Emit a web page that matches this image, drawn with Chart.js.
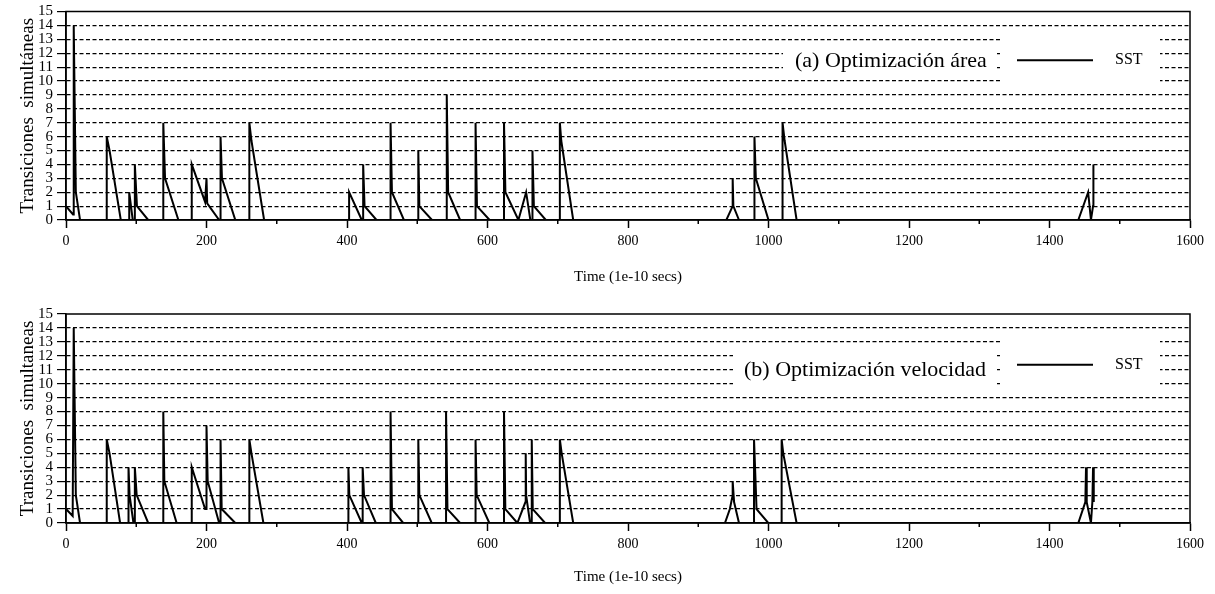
<!DOCTYPE html>
<html>
<head>
<meta charset="utf-8">
<script src="https://cdn.jsdelivr.net/npm/chart.js@4.4.1/dist/chart.umd.min.js"></script>
<style>
  body { margin: 0; background: #fff; }
  canvas { display: block; }
</style>
</head>
<body>
<canvas id="chartA" width="1215" height="290"></canvas>
<canvas id="chartB" width="1215" height="304"></canvas>
<script>
// (a) Optimización área
var timeA = [0, 10, 11, 14, 20,
  58, 58, 62, 78, 90, 90, 95, 98, 98, 101, 117,
  138.5, 138.5, 141, 160, 179, 179, 198, 200, 201, 218,
  220, 220, 222, 241, 261, 261, 264, 282,
  403, 403, 421, 423, 423, 425, 442, 462, 462, 464, 481,
  501.5, 501.5, 503, 521, 542, 542, 544, 561, 583, 583, 585, 603,
  623.5, 623.5, 625.5, 644, 655, 661, 664, 664, 666, 683,
  703, 703, 705, 722,
  940, 949, 949, 950, 958, 980, 980, 982, 1000, 1020, 1020, 1023, 1040,
  1441, 1455, 1459, 1462, 1462, 1463];
var valuesA = [1, 0.4, 14, 2, 0,
  0, 6, 5, 0, 0, 2, 0, 0, 4, 1, 0,
  0, 7, 3, 0, 0, 4, 1.3, 3, 1.2, 0,
  0, 6, 3, 0, 0, 7, 5.7, 0,
  0, 2, 0, 0, 4, 1, 0, 0, 7, 2, 0,
  0, 5, 1, 0, 0, 9, 2, 0, 0, 7, 1, 0,
  0, 7, 2, 0, 2, 0, 0, 5, 1, 0,
  0, 7, 5.7, 0,
  0, 1, 3, 1, 0, 0, 6, 3, 0, 0, 7, 5.7, 0,
  0, 2, 0, 1, 4, 1];

// (b) Optimización velocidad
var timeB = [0, 9.5, 11, 14, 20,
  58, 58, 62, 77, 89, 89, 90.5, 96, 98, 98, 100.6, 117,
  138.5, 138.5, 140, 157.5, 179, 179, 198, 200, 200, 201.7, 218,
  220, 220, 221.6, 241, 261, 261, 264, 281,
  402, 402, 403.3, 421, 422.3, 422.3, 424.2, 441, 462, 462, 464, 480,
  501.5, 501.5, 503, 520.6, 541, 541, 543, 561, 583, 583, 584.6, 602.6,
  623.5, 623.5, 625.4, 642.5, 654, 654.4, 655, 660.6, 663, 663, 664.4, 682,
  703, 703, 705.6, 722,
  938, 945, 949, 949, 951, 958, 979.4, 979.4, 983, 999.7, 1018.7, 1018.7, 1021, 1040,
  1441, 1451, 1452, 1453, 1459, 1461, 1462, 1463];
var valuesB = [1, 0.5, 14, 2, 0,
  0, 6, 5, 0, 0, 4, 2, 0, 0, 4, 2, 0,
  0, 8, 3, 0, 0, 4, 1, 1, 7, 3, 0,
  0, 6, 1, 0, 0, 6, 5, 0,
  0, 4, 2, 0, 0, 4, 2, 0, 0, 8, 1, 0,
  0, 6, 2, 0, 0, 8, 1, 0, 0, 6, 2, 0,
  0, 8, 1, 0, 1.5, 5, 2, 0, 0, 6, 1, 0,
  0, 6, 5, 0,
  0, 1, 2, 3, 1.5, 0, 0, 6, 1, 0, 0, 6, 5, 0,
  0, 1.5, 4, 1.5, 0, 1.5, 4, 1.5];

var xTicks = [0, 200, 400, 600, 800, 1000, 1200, 1400, 1600];
var minorTicks = [100, 300, 500, 700, 900, 1100, 1300, 1500];

Chart.defaults.font.family = '"Liberation Serif", "Times New Roman", serif';
Chart.defaults.color = '#000';

// frame, minor ticks and the caption / legend boxes
var boxPlugin = {
  id: 'boxPlugin',
  afterDraw: function(chart, args, opts) {
    var ctx = chart.ctx, a = chart.chartArea;
    var x = chart.scales.x, y = chart.scales.y;
    ctx.save();
    ctx.strokeStyle = '#000';
    ctx.lineWidth = 1.5;
    ctx.beginPath();
    minorTicks.forEach(function(v) {
      var px = x.getPixelForValue(v);
      ctx.moveTo(px, a.bottom);
      ctx.lineTo(px, a.bottom + 4);
    });
    ctx.stroke();
    ctx.strokeRect(a.left, a.top, a.right - a.left, a.bottom - a.top);

    ctx.fillStyle = '#fff';
    var ct = y.getPixelForValue(opts.capTop), cb = y.getPixelForValue(opts.capBottom);
    ctx.fillRect(a.right - opts.capLeft, ct, opts.capLeft - 193, cb - ct);
    var lt = y.getPixelForValue(13.5), lb = y.getPixelForValue(9.5);
    ctx.fillRect(a.right - 188, lt, 158, lb - lt);

    ctx.fillStyle = '#000';
    ctx.textBaseline = 'middle';
    ctx.font = '22px "Liberation Serif"';
    ctx.fillText(opts.caption, a.right - opts.textLeft, y.getPixelForValue(opts.textY));

    var ly = y.getPixelForValue(opts.lineY);
    ctx.lineWidth = 2;
    ctx.beginPath();
    ctx.moveTo(a.right - 173, ly);
    ctx.lineTo(a.right - 97, ly);
    ctx.stroke();
    ctx.font = '16px "Liberation Serif"';
    ctx.fillText('SST', a.right - 75, ly);
    ctx.restore();
  }
};

function makeChart(id, times, values, yTitle, box, padTop, axisHeight, titlePad) {
  var points = times.map(function(t, i) { return {x: t, y: values[i]}; });
  return new Chart(document.getElementById(id).getContext('2d'), {
    type: 'line',
    data: {
      datasets: [{
        label: 'SST',
        data: points,
        borderColor: '#000',
        borderWidth: 2,
        pointRadius: 0,
        tension: 0,
        fill: false
      }]
    },
    options: {
      responsive: false,
      animation: false,
      layout: { padding: { top: padTop, right: 25, bottom: 0, left: 0 } },
      plugins: {
        legend: { display: false },
        tooltip: { enabled: false },
        boxPlugin: box
      },
      scales: {
        x: {
          type: 'linear',
          min: 0,
          max: 1600,
          afterBuildTicks: function(scale) {
            scale.ticks = xTicks.map(function(v) { return {value: v}; });
          },
          afterFit: function(scale) { scale.height = axisHeight; },
          ticks: {
            font: { size: 14 }, padding: 5, maxRotation: 0, autoSkip: false,
            callback: function(v) { return String(v); }
          },
          grid: { drawOnChartArea: false, tickLength: 8, tickColor: '#000', tickWidth: 1.5 },
          border: { color: '#000', width: 1.5 },
          title: {
            display: true,
            text: 'Time (1e-10 secs)',
            font: { size: 15 },
            padding: { top: 0, bottom: titlePad }
          }
        },
        y: {
          min: 0,
          max: 15,
          afterFit: function(scale) { scale.width = 66; },
          ticks: { stepSize: 1, font: { size: 15, lineHeight: 1 }, padding: 4, autoSkip: false },
          grid: {
            color: function(c) {
              return (c.tick && (c.tick.value === 0 || c.tick.value === 15)) ? 'rgba(0,0,0,0)' : '#000';
            },
            lineWidth: 1.2,
            tickLength: 9,
            tickColor: '#000',
            tickWidth: 1.2
          },
          border: { color: '#000', width: 1.5, dash: [4, 2.5] },
          title: {
            display: true,
            text: yTitle,
            font: { size: 19 },
            padding: { top: 17, bottom: 0 }
          }
        }
      }
    },
    plugins: [boxPlugin]
  });
}

makeChart('chartA', timeA, valuesA, 'Transiciones  simultáneas', {
  caption: '(a) Optimización área',
  capLeft: 407, capTop: 12.5, capBottom: 10.5,
  textLeft: 395, textY: 11.45, lineY: 11.5
}, 11, 70, 4);

makeChart('chartB', timeB, valuesB, 'Transiciones  simultaneas', {
  caption: '(b) Optimización velocidad',
  capLeft: 457, capTop: 12.5, capBottom: 9.5,
  textLeft: 446, textY: 11.0, lineY: 11.35
}, 24, 71, 8);
</script>
</body>
</html>
